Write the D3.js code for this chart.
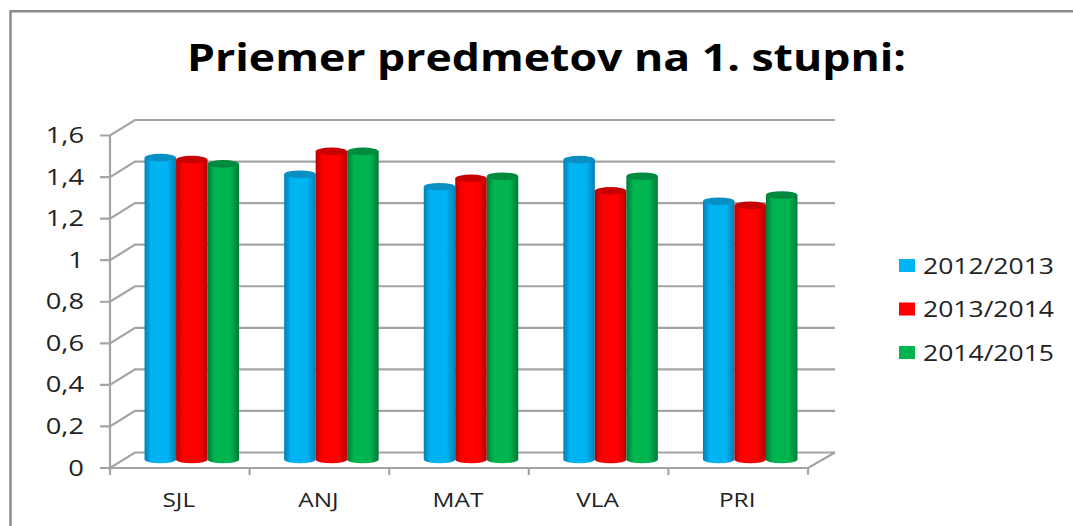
<!DOCTYPE html>
<html>
<head>
<meta charset="utf-8">
<script src="https://cdn.jsdelivr.net/npm/d3@7"></script>
<style>
  html, body { margin: 0; padding: 0; background: #fff; overflow: hidden; }
  svg { display: block; }
  text { font-family: "Open Sans", sans-serif; fill: #222; }
</style>
</head>
<body>
<svg id="plot" width="1073" height="526"></svg>
<script>
const titleText = "Priemer predmetov na 1. stupni:";
const categories = ["SJL", "ANJ", "MAT", "VLA", "PRI"];
const seriesNames = ["2012/2013", "2013/2014", "2014/2015"];
const values2012 = [1.46, 1.38, 1.32, 1.45, 1.25];
const values2013 = [1.45, 1.49, 1.36, 1.30, 1.23];
const values2014 = [1.43, 1.49, 1.37, 1.37, 1.28];
const yTicks = [0, 0.2, 0.4, 0.6, 0.8, 1, 1.2, 1.4, 1.6];

const seriesValues = [values2012, values2013, values2014];
const colors = [
  { base: "#00b4f4", dark: "#0080b4", top: "#0a8fc4" },
  { base: "#ff0000", dark: "#b80000", top: "#c80000" },
  { base: "#00b450", dark: "#007a38", top: "#008a40" }
];

const svg = d3.select("#plot");
const defs = svg.append("defs");

// the picture is stretched sideways, so the text is too
function stretch(sel, k) {
  sel.each(function () {
    const w = this.getComputedTextLength();
    d3.select(this).attr("textLength", w * k).attr("lengthAdjust", "spacingAndGlyphs");
  });
}

// frame, only left and top show in the picture
svg.append("path")
  .attr("d", "M10.5,526V11.2H1073")
  .attr("fill", "none").attr("stroke", "#8c8c8c").attr("stroke-width", 2.5);

svg.append("text")
  .attr("x", 187).attr("y", 71)
  .attr("font-size", 38).attr("font-weight", 700)
  .attr("textLength", 719).attr("lengthAdjust", "spacingAndGlyphs")
  .style("fill", "#000")
  .text(titleText);

// Scales
const x = d3.scaleBand().domain(categories).range([110, 808]);
const y = d3.scaleLinear().domain([0, 1.6]).range([468, 135.5]);

// depth of the fake 3D floor
const depthX = 27, depthY = -15.5;
// bars stand in the middle of the floor
const barDx = 12, barDy = -7, baseDy = -8.5;

const barW = 31.5;
const inner = d3.scaleBand().domain(d3.range(3)).range([0, barW * 3]);

const grey = "#a4a4a4";
const grid = svg.append("g").attr("fill", "none").attr("stroke", grey).attr("stroke-width", 2.2);

yTicks.forEach(t => {
  grid.append("path")
    .attr("d", `M${x.range()[0] - 10},${y(t)}H${x.range()[0]}L${x.range()[0] + depthX - 2},${y(t) + depthY}H${x.range()[1] + depthX}`);
});
grid.append("path").attr("d", `M${x.range()[0]},${y(1.6)}V${y(0) + 7}`);
grid.append("path").attr("d", `M${x.range()[0]},${y(0)}H${x.range()[1]}L${x.range()[1] + depthX},${y(0) + depthY}`);
categories.forEach((c, i) => {
  const px = x.range()[0] + x.step() * (i + 1);
  grid.append("path").attr("d", `M${px},${y(0)}V${y(0) + 7}`);
});

// Axis labels
svg.append("g").selectAll("text")
  .data(yTicks).enter().append("text")
  .attr("x", 84).attr("y", d => y(d) + 7.5)
  .attr("text-anchor", "end")
  .attr("font-size", 21)
  .text(d => String(d).replace(".", ","))
  .call(stretch, 1.3);

svg.append("g").selectAll("text")
  .data(categories).enter().append("text")
  .attr("x", d => x(d) + x.bandwidth() / 2 - 1)
  .attr("y", 507)
  .attr("text-anchor", "middle")
  .attr("font-size", 19.5)
  .text(d => d)
  .call(stretch, 1.25);

// Bars
colors.forEach((c, i) => {
  const grad = defs.append("linearGradient").attr("id", "bar" + i);
  [[0, c.dark], [0.22, c.base], [0.72, c.base], [1, c.dark]].forEach(s => {
    grad.append("stop").attr("offset", s[0]).attr("stop-color", s[1]);
  });
});

const ry = 3.8;
seriesValues.forEach((vals, s) => {
  const g = svg.append("g");
  vals.forEach((v, i) => {
    const left = x(categories[i]) + x.bandwidth() / 2 - barW * 1.5 + barDx + inner(s);
    const top = y(v) + barDy;
    const bottom = y(0) + baseDy;
    g.append("path")
      .attr("d", `M${left},${top}V${bottom}A${barW / 2},${ry} 0 0 0 ${left + barW},${bottom}V${top}Z`)
      .attr("fill", `url(#bar${s})`);
    g.append("ellipse")
      .attr("cx", left + barW / 2).attr("cy", top)
      .attr("rx", barW / 2).attr("ry", ry)
      .attr("fill", colors[s].top);
  });
});

// Legend
const legendY = d3.scalePoint().domain(seriesNames).range([266, 353]);
const legend = svg.append("g");
seriesNames.forEach((n, i) => {
  legend.append("rect")
    .attr("x", 899).attr("y", legendY(n) - 7)
    .attr("width", 16).attr("height", 13)
    .attr("fill", colors[i].base);
  legend.append("text")
    .attr("x", 923).attr("y", legendY(n) + 7.5)
    .attr("font-size", 21)
    .attr("textLength", 131).attr("lengthAdjust", "spacingAndGlyphs")
    .text(n);
});
</script>
</body>
</html>
